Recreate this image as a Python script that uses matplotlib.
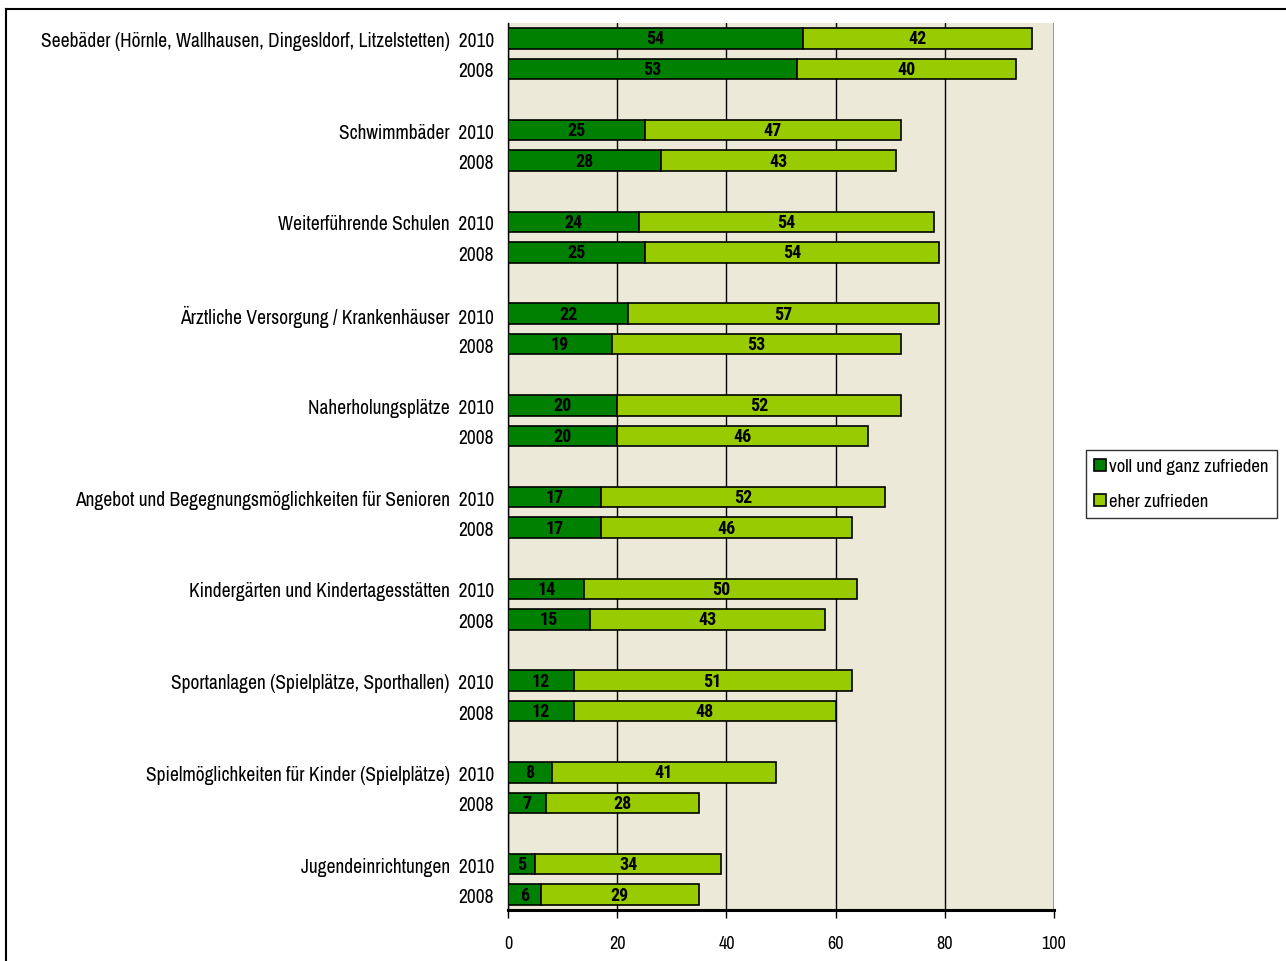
import matplotlib.pyplot as plt
from matplotlib.lines import Line2D
from matplotlib import font_manager

categories = [
    "Seebäder (Hörnle, Wallhausen, Dingesldorf, Litzelstetten)",
    "Schwimmbäder",
    "Weiterführende Schulen",
    "Ärztliche Versorgung / Krankenhäuser",
    "Naherholungsplätze",
    "Angebot und Begegnungsmöglichkeiten für Senioren",
    "Kindergärten und Kindertagesstätten",
    "Sportanlagen (Spielplätze, Sporthallen)",
    "Spielmöglichkeiten für Kinder (Spielplätze)",
    "Jugendeinrichtungen",
]
years = ["2010", "2008"]
voll_2010 = [54, 25, 24, 22, 20, 17, 14, 12, 8, 5]
eher_2010 = [42, 47, 54, 57, 52, 52, 50, 51, 41, 34]
voll_2008 = [53, 28, 25, 19, 20, 17, 15, 12, 7, 6]
eher_2008 = [40, 43, 54, 53, 46, 46, 43, 48, 28, 29]
legend_labels = ["voll und ganz zufrieden", "eher zufrieden"]
xticks = [0, 20, 40, 60, 80, 100]

DARK = "#008000"
LIGHT = "#99CC00"
BG = "#ECE9D8"


def first_font(cands):
    names = {f.name for f in font_manager.fontManager.ttflist}
    for c in cands:
        if c in names:
            return c
    return "DejaVu Sans"


# Arial Narrow look-alikes
fam = first_font(["Liberation Sans Narrow", "Archivo Narrow", "Roboto Condensed",
                  "Fira Sans Condensed"])
bold_fam = first_font(["Liberation Sans Narrow", "Roboto Condensed",
                       "Fira Sans Condensed", "Barlow Condensed"])
plt.rcParams["font.family"] = [fam, "DejaVu Sans"]

fig = plt.figure(figsize=(12.86, 9.62), dpi=100)
ax = fig.add_axes([508 / 1286, 1 - 911 / 962, 546 / 1286, 887 / 962])
ax.set_facecolor(BG)

ypos, voll, eher, labels = [], [], [], []
for i, cat in enumerate(categories):
    for j, yr in enumerate(years):
        ypos.append(3 * i + j)
        voll.append(voll_2010[i] if j == 0 else voll_2008[i])
        eher.append(eher_2010[i] if j == 0 else eher_2008[i])
        labels.append(f"{cat}  {yr}" if j == 0 else yr)

h = 0.67
b1 = ax.barh(ypos, voll, height=h, color=DARK, edgecolor="black", linewidth=1.2,
             label=legend_labels[0], zorder=3)
b2 = ax.barh(ypos, eher, left=voll, height=h, color=LIGHT, edgecolor="black",
             linewidth=1.2, label=legend_labels[1], zorder=3)
for bars in (b1, b2):
    ax.bar_label(bars, label_type="center", fontsize=13, fontweight="bold",
                 family=[bold_fam, "DejaVu Sans"], color="black", zorder=4)

ax.set_xlim(0, 100)
ax.set_ylim(28.5, -0.5)
ax.set_xticks(xticks)
ax.set_xticklabels([str(v) for v in xticks], fontsize=13)
ax.set_yticks(ypos)
ax.set_yticklabels(labels, fontsize=14)
ax.tick_params(axis="y", length=0, pad=10)
ax.tick_params(axis="x", length=6, width=1, pad=12, direction="out")
ax.grid(axis="x", color="black", linewidth=1, zorder=1)
for s in ("top", "right"):
    ax.spines[s].set_visible(False)
ax.spines["bottom"].set_linewidth(2.2)
ax.spines["left"].set_linewidth(1)
ax.axvline(100, color="black", linewidth=1, zorder=1)

leg = fig.legend(handles=[b1, b2], labels=legend_labels,
                 loc="upper left", bbox_to_anchor=(1086 / 1286, 1 - 451 / 962),
                 fontsize=13.5, frameon=True, fancybox=False, edgecolor="black",
                 handlelength=0.6, handleheight=0.6, handletextpad=0.2,
                 labelspacing=1.0, borderpad=0.45, borderaxespad=0)
leg.get_frame().set_linewidth(1)

# outer chart border (top and left visible)
fig.add_artist(Line2D([6 / 1286, 1.0], [1 - 10 / 962] * 2, color="black", linewidth=1.5))
fig.add_artist(Line2D([6 / 1286] * 2, [0.0, 1 - 10 / 962], color="black", linewidth=1.5))

fig.savefig("out.png", dpi=100)
